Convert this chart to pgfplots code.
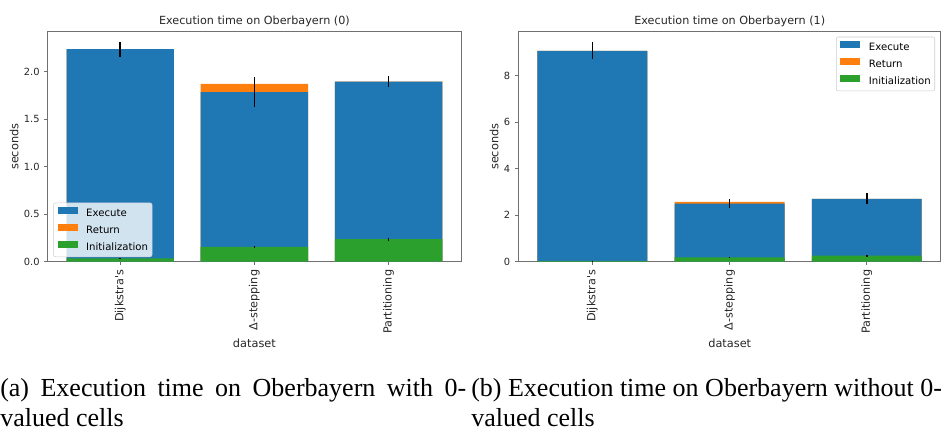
\documentclass[border=0pt]{standalone}
\usepackage{fontspec}
\setmainfont{Liberation Serif}
\newfontfamily\djv{DejaVu Sans}[Ligatures=TeXOff]
\usepackage{pgfplots}
\pgfplotsset{compat=1.18}
\definecolor{tabblue}{HTML}{1F77B4}
\definecolor{taborange}{HTML}{FF7F0E}
\definecolor{tabgreen}{HTML}{2CA02C}
\definecolor{spine}{HTML}{707070}
\newcommand{\tickfont}{\djv\fontsize{7.4}{8.8}\selectfont}
\newcommand{\xtickfont}{\djv\fontsize{8.4}{10}\selectfont}
\newcommand{\labfont}{\djv\fontsize{8.5}{10}\selectfont}
\newcommand{\legfont}{\djv\fontsize{7.6}{9}\selectfont}
\pgfplotsset{
  mystyle/.style={
    scale only axis,
    xmin=-0.54, xmax=2.54, ymin=0,
    axis line style={spine, line width=0.75pt},
    tick style={spine, line width=0.75pt},
    tick align=outside,
    major tick length=2.6pt,
    xtick pos=left, ytick pos=left,
    xtick={0,1,2},
    xticklabels={Dijkstra's,Δ-stepping,Partitioning},
    xticklabel style={rotate=90, anchor=east, font=\xtickfont, text=black!85},
    yticklabel style={font=\tickfont, text=black!85},
    /pgf/number format/assume math mode=true,
    legend style={draw=black!20, fill=white, fill opacity=0.8, text opacity=1,
      rounded corners=1.5pt, font=\legfont, inner xsep=3pt, inner ysep=3.3pt,
      row sep=4.3pt, nodes={inner sep=0pt, text height=5.6pt, text depth=1.6pt}},
    legend cell align=left,
  },
  mybar/.style={ybar, bar width=0.8, bar shift=0pt, draw=none, fill=#1, forget plot},
  eb/.style={draw=none, mark=none, forget plot, error bars/.cd, y dir=both, y explicit,
    error mark=none, error bar style={draw=black, solid, line width=1.2pt}},
  leg/.style={legend image code/.code={\fill[#1, draw=none, sharp corners, fill opacity=1] (0pt,-0.4pt) rectangle (15pt,4.8pt); \path[draw=none] (0pt,0pt) -- (21.5pt,0pt);}},
}
\begin{document}
\begin{tikzpicture}
\useasboundingbox (0,0) rectangle (708.75pt,324.75pt);
\clip (0,0) rectangle (708.75pt,324.75pt);

% ---------- left chart ----------
\begin{axis}[mystyle, at={(35.8pt,128.5pt)}, anchor=south west,
  width=310pt, height=172.5pt, ymax=2.42,
  ytick={0,0.5,1,1.5,2},
  y tick label style={/pgf/number format/fixed, /pgf/number format/fixed zerofill, /pgf/number format/precision=1},
  legend style={at={(0.0135,0.02)}, anchor=south west}]
\addlegendimage{leg=tabblue}\addlegendentry{Execute}
\addlegendimage{leg=taborange}\addlegendentry{Return}
\addlegendimage{leg=tabgreen}\addlegendentry{Initialization}
% total (Return on top)
\addplot[mybar=taborange] coordinates {(0,2.236) (1,1.870) (2,1.895)};
% Execute top
\addplot[mybar=tabblue] coordinates {(0,2.236) (1,1.783) (2,1.895)};
% Initialization
\addplot[mybar=tabgreen] coordinates {(0,0.035) (1,0.155) (2,0.236)};
\addplot[eb] coordinates {(0,2.231) +- (0,0.079) (1,1.786) +- (0,0.155) (2,1.898) +- (0,0.056)};
\addplot[eb] coordinates {(0,0.035) +- (0,0.004) (1,0.155) +- (0,0.012) (2,0.236) +- (0,0.017)};
\end{axis}

% ---------- right chart ----------
\begin{axis}[mystyle, at={(388.7pt,128.5pt)}, anchor=south west,
  width=317pt, height=172.5pt, ymax=9.89,
  ytick={0,2,4,6,8},
  legend style={at={(0.986,0.978)}, anchor=north east}]
\addlegendimage{leg=tabblue}\addlegendentry{Execute}
\addlegendimage{leg=taborange}\addlegendentry{Return}
\addlegendimage{leg=tabgreen}\addlegendentry{Initialization}
\addplot[mybar=taborange] coordinates {(0,9.06) (1,2.57) (2,2.70)};
\addplot[mybar=tabblue] coordinates {(0,9.06) (1,2.50) (2,2.70)};
\addplot[mybar=tabgreen] coordinates {(0,0.03) (1,0.19) (2,0.26)};
\addplot[eb] coordinates {(0,9.07) +- (0,0.37) (1,2.50) +- (0,0.20) (2,2.71) +- (0,0.23)};
\addplot[eb] coordinates {(0,0.03) +- (0,0.01) (1,0.19) +- (0,0.03) (2,0.26) +- (0,0.03)};
\end{axis}

% ---------- titles and labels ----------
\node[anchor=base, font=\djv\fontsize{8.4}{10}\selectfont, text=black!85] at (190.8pt,306pt) {Execution time on Oberbayern (0)};
\node[anchor=base, font=\djv\fontsize{8.4}{10}\selectfont, text=black!85] at (547.3pt,306pt) {Execution time on Oberbayern (1)};
\node[anchor=base, font=\labfont, text=black!85] at (190.8pt,64.3pt) {dataset};
\node[anchor=base, font=\labfont, text=black!85] at (547.3pt,64.3pt) {dataset};
\node[anchor=base, rotate=90, font=\labfont, text=black!85] at (13.7pt,214.7pt) {seconds};
\node[anchor=base, rotate=90, font=\labfont, text=black!85] at (373.7pt,214.7pt) {seconds};

% ---------- captions ----------
\node[anchor=base west, inner sep=0pt, font=\fontsize{19.5}{22.5}\selectfont] at (0pt,27.2pt)
  {\makebox[349.5pt][s]{(a) Execution time on Oberbayern with 0-}};
\node[anchor=base west, inner sep=0pt, font=\fontsize{19.5}{22.5}\selectfont] at (0pt,4.7pt) {valued cells};
\node[anchor=base west, inner sep=0pt, font=\fontsize{19.5}{22.5}\selectfont] at (353.25pt,27.2pt)
  {(b) Execution time on Oberbayern without 0-};
\node[anchor=base west, inner sep=0pt, font=\fontsize{19.5}{22.5}\selectfont] at (353.25pt,4.7pt) {valued cells};
\end{tikzpicture}
\end{document}
